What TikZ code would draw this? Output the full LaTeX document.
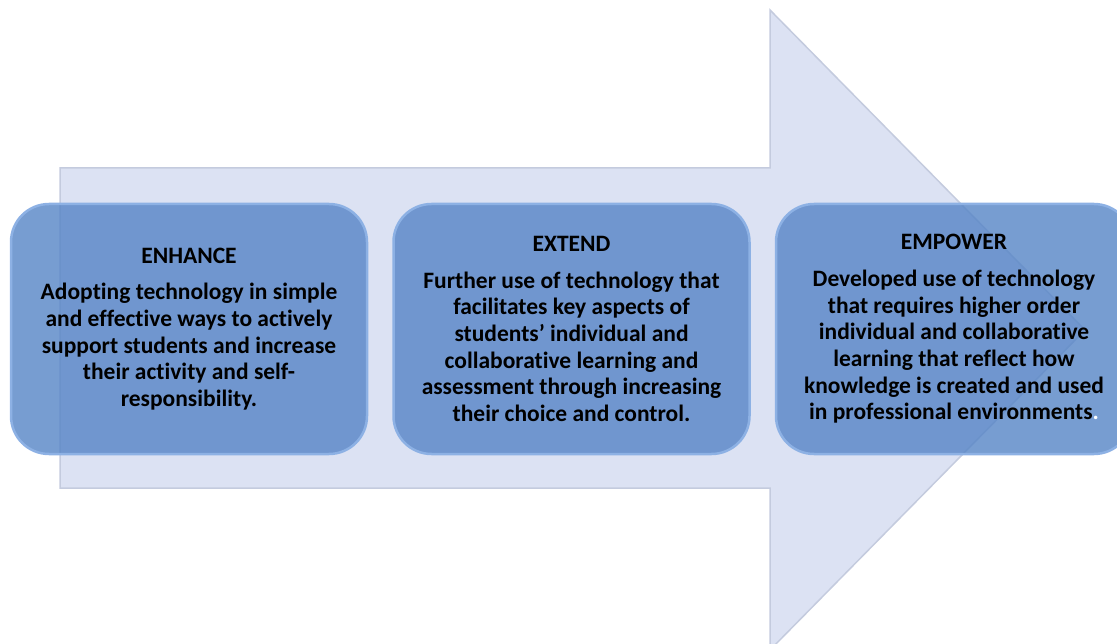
\documentclass[tikz,border=0pt]{standalone}
\usepackage{fontspec}
\setmainfont{Carlito}[Ligatures=NoCommon]
\usetikzlibrary{positioning}

\definecolor{arrowfill}{HTML}{DCE2F3}
\definecolor{arrowedge}{HTML}{C4CBDE}
\definecolor{boxfill}{HTML}{5584C6}
\definecolor{boxedge}{HTML}{8DB1E4}

\begin{document}
\begin{tikzpicture}[x=1pt,y=-1pt,
    stagebox/.style={draw=boxedge,line width=2.5pt,fill=boxfill,fill opacity=0.8,
      text opacity=1,rounded corners=38pt,minimum width=356pt,minimum height=250pt,
      align=center,font=\bfseries\fontsize{23.5}{26.7}\selectfont}]
    \clip (0,0) rectangle (1117,644);
    % big arrow in the back
    \draw[fill=arrowfill,draw=arrowedge,line width=1.5pt]
        (60,168) -- (770,168) -- (770,10) -- (1085,330) -- (770,650)
        -- (770,488) -- (60,488) -- cycle;

    \node[stagebox] (enhance) at (189,329) {ENHANCE\\[10pt]
        Adopting technology in simple\\ and effective ways to actively\\
        support students and increase\\ their activity and self-\\ responsibility.};
    \node[stagebox,right=24pt of enhance] (extend) {EXTEND\\[10pt]
        Further use of technology that\\ facilitates key aspects of\\
        students’ individual and\\ collaborative learning and\\
        assessment through increasing\\ their choice and control.};
    \node[stagebox,right=24pt of extend] (empower) {EMPOWER\\[10pt]
        Developed use of technology\\ that requires higher order\\
        individual and collaborative\\ learning that reflect how\\
        knowledge is created and used\\ in professional environments{\color{white}.}};
\end{tikzpicture}
\end{document}
